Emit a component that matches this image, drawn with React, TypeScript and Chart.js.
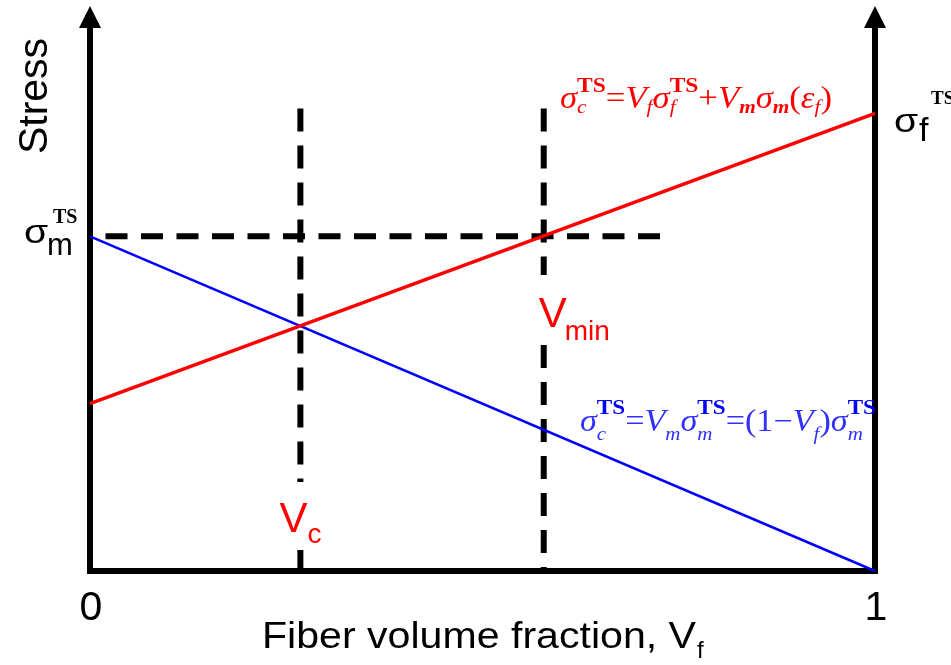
import React, { useEffect, useRef } from "react";
import { Chart, registerables } from "chart.js";
Chart.register(...registerables);

// ---- data ----
const fiberFraction = [0, 1];
const stressFiberControlled = [0.5, 1.367]; // red: sigma_c = Vf*sf + Vm*sm(ef)
const stressMatrixControlled = [1, 0]; // blue: sigma_c = (1-Vf)*sm
const sigmaMLevel = 1;
const sigmaMLineX = [0, 0.735];
const Vc = 0.268;
const Vmin = 0.578;
const vcSegments = [
  [1.382, 0.266],
  [0.063, 0],
];
const vminSegments = [
  [1.382, 0.884],
  [0.675, 0],
];
const xTickValues = [0, 1];
const xTickLabels = ["0", "1"];
const yMax = 1.7;

const SANS = "'Liberation Sans', Arial, sans-serif";
const SERIF = "'Liberation Serif', 'Times New Roman', serif";

type Piece = { t?: string; f?: string; c?: string; dy?: number; sub?: Piece; sup?: Piece };

function drawRich(ctx: CanvasRenderingContext2D, items: Piece[], x: number, y: number, target: number, defColor: string) {
  ctx.save();
  const widthOf = (p: Piece) => {
    if (p.sub || p.sup) {
      let w = 0;
      if (p.sub) { ctx.font = p.sub.f!; w = Math.max(w, ctx.measureText(p.sub.t!).width); }
      if (p.sup) { ctx.font = p.sup.f!; w = Math.max(w, ctx.measureText(p.sup.t!).width); }
      return w;
    }
    ctx.font = p.f!;
    return ctx.measureText(p.t!).width;
  };
  let total = 0;
  items.forEach((p) => (total += widthOf(p)));
  const s = target / total;
  ctx.translate(x, y);
  ctx.scale(s, 1);
  ctx.textBaseline = "alphabetic";
  ctx.textAlign = "left";
  let pen = 0;
  const put = (p: Piece) => {
    ctx.font = p.f!;
    ctx.fillStyle = p.c || defColor;
    ctx.fillText(p.t!, pen, p.dy || 0);
  };
  items.forEach((p) => {
    const w = widthOf(p);
    if (p.sub || p.sup) {
      if (p.sub) put(p.sub);
      if (p.sup) put(p.sup);
    } else put(p);
    pen += w;
  });
  ctx.restore();
}

function text(ctx: CanvasRenderingContext2D, t: string, x: number, y: number, font: string, color: string, align: CanvasTextAlign = "left", sx = 1) {
  ctx.save();
  ctx.font = font;
  ctx.fillStyle = color;
  ctx.textAlign = align;
  ctx.textBaseline = "alphabetic";
  ctx.translate(x, y);
  ctx.scale(sx, 1);
  ctx.fillText(t, 0, 0);
  ctx.restore();
}

const axesPlugin = {
  id: "axesArrows",
  beforeDatasetsDraw(chart: any) {
    const ctx: CanvasRenderingContext2D = chart.ctx;
    const xs = chart.scales.x;
    const ys = chart.scales.y;
    const x0 = xs.getPixelForValue(0);
    const x1 = xs.getPixelForValue(1);
    const y0 = ys.getPixelForValue(0);
    const yTop = ys.getPixelForValue(yMax) + 4;
    ctx.save();
    ctx.strokeStyle = "#000";
    ctx.fillStyle = "#000";
    ctx.lineWidth = 6;
    ctx.lineCap = "butt";
    ctx.beginPath();
    ctx.moveTo(x0 - 3, y0);
    ctx.lineTo(x1 + 3, y0);
    ctx.moveTo(x0, y0 + 3);
    ctx.lineTo(x0, yTop + 20);
    ctx.moveTo(x1, y0 + 3);
    ctx.lineTo(x1, yTop + 20);
    ctx.stroke();
    [x0, x1].forEach((xx) => {
      ctx.beginPath();
      ctx.moveTo(xx, yTop);
      ctx.lineTo(xx - 11, yTop + 22);
      ctx.lineTo(xx + 11, yTop + 22);
      ctx.closePath();
      ctx.fill();
    });
    ctx.restore();
  },
};

const textPlugin = {
  id: "labels",
  afterDraw(chart: any) {
    const ctx: CanvasRenderingContext2D = chart.ctx;
    const xs = chart.scales.x;
    const ys = chart.scales.y;
    const yb = ys.getPixelForValue(0);
    // tick labels
    xTickValues.forEach((v, i) => {
      text(ctx, xTickLabels[i], xs.getPixelForValue(v) + 1, yb + 49, `41px ${SANS}`, "#000", "center");
    });
    // x axis title
    ctx.save();
    ctx.font = `36px ${SANS}`;
    const tw = ctx.measureText("Fiber volume fraction, V").width;
    ctx.restore();
    const sx = 434 / tw;
    text(ctx, "Fiber volume fraction, V", 262, 648, `36px ${SANS}`, "#000", "left", sx);
    text(ctx, "f", 262 + tw * sx + 1, 658, `24px ${SANS}`, "#000");
    // y title
    ctx.save();
    ctx.translate(47, 96);
    ctx.rotate(-Math.PI / 2);
    ctx.font = `41px ${SANS}`;
    ctx.fillStyle = "#000";
    ctx.textAlign = "center";
    ctx.fillText("Stress", 0, 0);
    ctx.restore();
    // sigma_m^TS
    const ym = ys.getPixelForValue(sigmaMLevel);
    text(ctx, "σ", 24, ym + 7, `34px ${SANS}`, "#000", "left", 1.15);
    text(ctx, "m", 47, ym + 19, `31px ${SANS}`, "#000");
    text(ctx, "TS", 53, ym - 13, `bold 20px ${SERIF}`, "#000");
    // sigma_f^TS
    const yf = ys.getPixelForValue(stressFiberControlled[1]);
    text(ctx, "σ", 894, yf + 19, `34px ${SANS}`, "#000", "left", 1.15);
    text(ctx, "f", 919, yf + 28, `34px ${SANS}`, "#000");
    text(ctx, "TS", 931, yf - 9, `bold 19px ${SERIF}`, "#000");
    // Vc / Vmin labels
    const xc = xs.getPixelForValue(Vc);
    text(ctx, "V", xc - 21, 532, `42px ${SANS}`, "#ff0000");
    text(ctx, "c", xc + 7, 543, `28px ${SANS}`, "#ff0000");
    const xm = xs.getPixelForValue(Vmin);
    text(ctx, "V", xm - 5, 327, `42px ${SANS}`, "#ff0000");
    text(ctx, "min", xm + 21, 340, `28px ${SANS}`, "#ff0000");
    // red equation
    const M = `italic 31px ${SERIF}`;
    const R = `31px ${SERIF}`;
    const S = `italic 19px ${SERIF}`;
    const SB = `bold italic 19px ${SERIF}`;
    const T = `bold 21px ${SERIF}`;
    const red: Piece[] = [
      { t: "σ", f: M },
      { sub: { t: "c", f: S, dy: 5 }, sup: { t: "TS", f: T, dy: -16 } },
      { t: "=", f: R },
      { t: "V", f: M },
      { t: "f", f: S, dy: 5 },
      { t: "σ", f: M },
      { sub: { t: "f", f: S, dy: 5 }, sup: { t: "TS", f: T, dy: -16 } },
      { t: "+", f: R },
      { t: "V", f: M },
      { t: "m", f: SB, dy: 5 },
      { t: "σ", f: M },
      { t: "m", f: SB, dy: 5 },
      { t: "(", f: R },
      { t: "ε", f: M },
      { t: "f", f: S, dy: 5 },
      { t: ")", f: R },
    ];
    drawRich(ctx, red, 560, 108, 272, "#ff0000");
    // blue equation
    const BL = "#3030ff";
    const TB = { f: T, c: "#0000ff", dy: -17 };
    const blue: Piece[] = [
      { t: "σ", f: M },
      { sub: { t: "c", f: S, dy: 9 }, sup: { t: "TS", ...TB } },
      { t: "=", f: R },
      { t: "V", f: M },
      { t: "m", f: S, dy: 9 },
      { t: "σ", f: M },
      { sub: { t: "m", f: S, dy: 9 }, sup: { t: "TS", ...TB } },
      { t: "=", f: R },
      { t: "(1", f: R },
      { t: "−", f: R },
      { t: "V", f: M },
      { t: "f", f: S, dy: 9 },
      { t: ")", f: R },
      { t: "σ", f: M },
      { sub: { t: "m", f: S, dy: 9 }, sup: { t: "TS", ...TB } },
    ];
    drawRich(ctx, blue, 580, 431, 296, BL);
  },
};

function vertical(x: number, segs: number[][]) {
  const pts: any[] = [];
  segs.forEach((s, i) => {
    if (i > 0) pts.push({ x, y: null });
    pts.push({ x, y: s[0] }, { x, y: s[1] });
  });
  return pts;
}

export default function App() {
  const ref = useRef<HTMLCanvasElement>(null);
  useEffect(() => {
    const canvas = ref.current!;
    const base = { pointRadius: 0, fill: false, tension: 0, clip: false as any, spanGaps: false, showLine: true };
    const chart = new Chart(canvas, {
      type: "line",
      data: {
        datasets: [
          {
            ...base,
            data: fiberFraction.map((x, i) => ({ x, y: stressFiberControlled[i] })),
            borderColor: "#ff0000",
            borderWidth: 3.5,
          },
          {
            ...base,
            data: fiberFraction.map((x, i) => ({ x, y: stressMatrixControlled[i] })),
            borderColor: "#0000ff",
            borderWidth: 2.5,
          },
          {
            ...base,
            data: sigmaMLineX.map((x) => ({ x, y: sigmaMLevel })),
            borderColor: "#000",
            borderWidth: 6,
            borderDash: [22, 13.5],
            borderDashOffset: 20,
            borderCapStyle: "butt",
          },
          {
            ...base,
            data: vertical(Vc, vcSegments),
            borderColor: "#000",
            borderWidth: 6,
            borderDash: [23, 14],
            borderCapStyle: "butt",
          },
          {
            ...base,
            data: vertical(Vmin, vminSegments),
            borderColor: "#000",
            borderWidth: 6,
            borderDash: [23, 14],
            borderCapStyle: "butt",
          },
        ] as any,
      },
      options: {
        responsive: false,
        animation: false,
        devicePixelRatio: 1,
        events: [],
        layout: { padding: { left: 90, right: 76, top: 2, bottom: 94 } },
        scales: {
          x: { type: "linear", min: 0, max: 1, display: false },
          y: { type: "linear", min: 0, max: yMax, display: false },
        },
        plugins: { legend: { display: false }, tooltip: { enabled: false } },
      },
      plugins: [axesPlugin, textPlugin],
    });
    return () => chart.destroy();
  }, []);
  return (
    <div style={{ position: "absolute", left: 0, top: 0, width: 951, height: 665, background: "#fff" }}>
      <canvas ref={ref} width={951} height={665} style={{ display: "block", width: 951, height: 665 }} />
    </div>
  );
}
